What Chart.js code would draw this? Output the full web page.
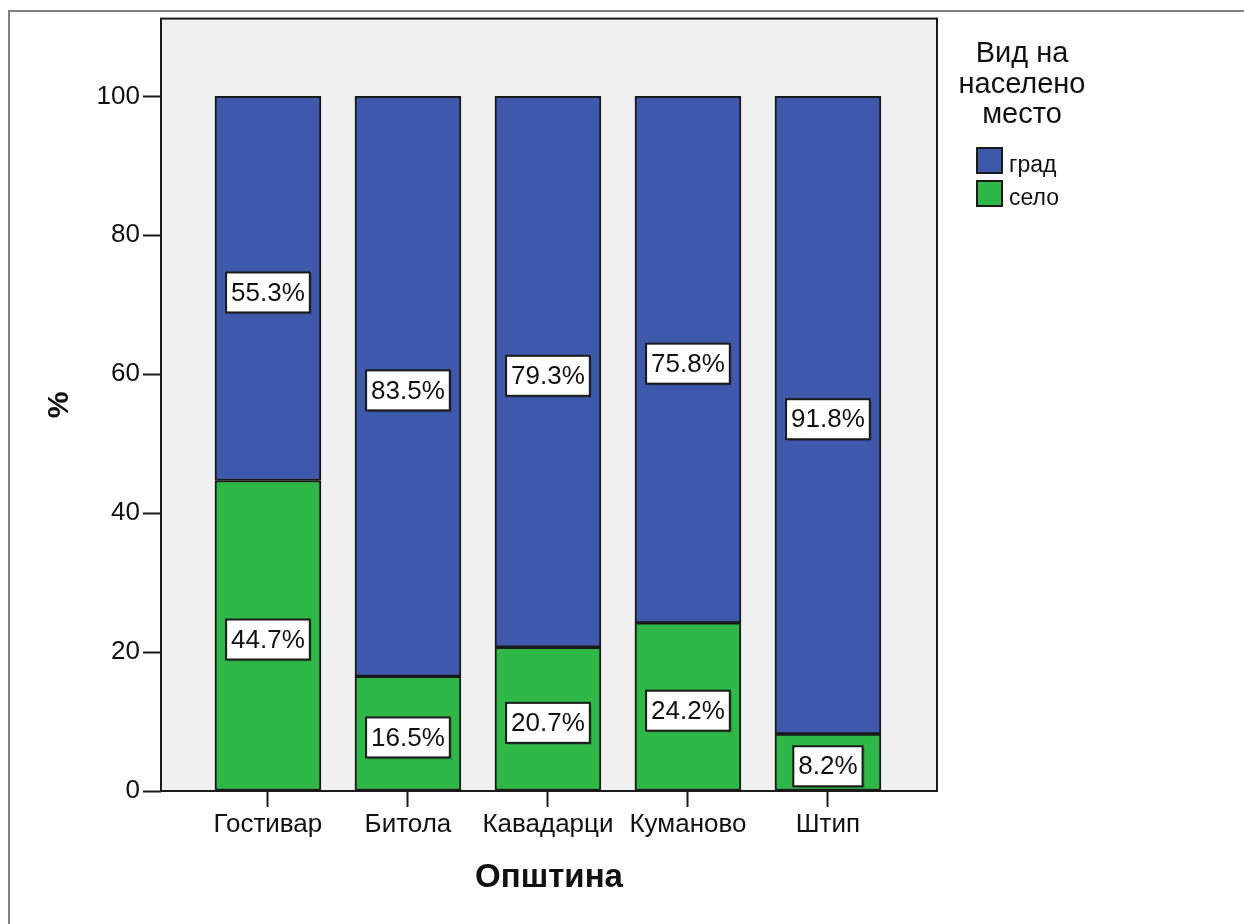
<!DOCTYPE html>
<html>
<head>
<meta charset="utf-8">
<script src="https://cdn.jsdelivr.net/npm/chart.js@4.4.1/dist/chart.umd.min.js"></script>
<style>
  html, body { margin: 0; padding: 0; background: #fff; }
  #wrap { width: 1244px; height: 924px; }
</style>
</head>
<body>
<div id="wrap"><canvas id="chart" width="1244" height="924"></canvas></div>
<script>
// Municipalities and share of respondents by settlement type (%)
const cities = ['Гостивар', 'Битола', 'Кавадарци', 'Куманово', 'Штип'];
const gradValues = [55.3, 83.5, 79.3, 75.8, 91.8];
const seloValues = [44.7, 16.5, 20.7, 24.2, 8.2];
const yTicks = [0, 20, 40, 60, 80, 100];

const legendTitle = ['Вид на', 'населено', 'место'];
const FONT = "'Liberation Sans', Arial, sans-serif";
const BLUE = '#3E58AC';
const GREEN = '#2EB848';

// plot background and frame, outer border
const framePlugin = {
    id: 'frame',
    beforeDraw(chart) {
        const ctx = chart.ctx;
        const a = chart.chartArea;
        ctx.save();
        ctx.strokeStyle = '#808080';
        ctx.lineWidth = 2;
        ctx.strokeRect(9, 11, 1400, 1100);
        ctx.fillStyle = '#F0F0F0';
        ctx.fillRect(a.left, a.top, a.right - a.left, a.bottom - a.top);
        ctx.restore();
    },
    afterDatasetsDraw(chart) {
        const ctx = chart.ctx;
        const a = chart.chartArea;
        ctx.save();
        ctx.strokeStyle = '#1a1a1a';
        ctx.lineWidth = 2;
        ctx.strokeRect(a.left, a.top, a.right - a.left, a.bottom - a.top);
        ctx.restore();
    }
};

// white value boxes in the middle of each segment
const valueBoxes = {
    id: 'valueBoxes',
    afterDatasetsDraw(chart) {
        const ctx = chart.ctx;
        ctx.save();
        ctx.font = '26px ' + FONT;
        ctx.textAlign = 'center';
        ctx.textBaseline = 'middle';
        chart.data.datasets.forEach((ds, di) => {
            const meta = chart.getDatasetMeta(di);
            meta.data.forEach((bar, i) => {
                const text = ds.data[i].y.toFixed(1) + '%';
                const w = ctx.measureText(text).width + 10;
                const h = 40;
                const cx = bar.x;
                const cy = (bar.y + bar.base) / 2 + 4;
                ctx.fillStyle = 'rgba(0,0,0,0.18)';
                ctx.fillRect(cx - w / 2 + 2, cy - h / 2 + 2, w, h);
                ctx.fillStyle = '#fff';
                ctx.fillRect(cx - w / 2, cy - h / 2, w, h);
                ctx.strokeStyle = '#1a1a1a';
                ctx.lineWidth = 2;
                ctx.strokeRect(cx - w / 2, cy - h / 2, w, h);
                ctx.fillStyle = '#111';
                ctx.fillText(text, cx, cy + 1);
            });
        });
        ctx.restore();
    }
};

// legend on the right, drawn like the original
const sideLegend = {
    id: 'sideLegend',
    afterDraw(chart) {
        const ctx = chart.ctx;
        ctx.save();
        ctx.fillStyle = '#111';
        ctx.font = '29px ' + FONT;
        ctx.textAlign = 'center';
        ctx.textBaseline = 'alphabetic';
        legendTitle.forEach((line, i) => {
            ctx.fillText(line, 1022, 62 + i * 30.5);
        });
        const items = [chart.data.datasets[1], chart.data.datasets[0]];
        ctx.font = '23px ' + FONT;
        ctx.textAlign = 'left';
        items.forEach((ds, i) => {
            const y = 148 + i * 33;
            ctx.fillStyle = ds.backgroundColor;
            ctx.fillRect(977, y, 25, 25);
            ctx.strokeStyle = '#1a1a1a';
            ctx.lineWidth = 2;
            ctx.strokeRect(977, y, 25, 25);
            ctx.fillStyle = '#111';
            ctx.fillText(ds.label, 1009, y + 24);
        });
        ctx.restore();
    }
};

const ctx = document.getElementById('chart').getContext('2d');
new Chart(ctx, {
    type: 'bar',
    data: {
        datasets: [{
            label: 'село',
            data: seloValues.map((v, i) => ({ x: i, y: v })),
            backgroundColor: GREEN,
            borderColor: '#1a1a1a',
            borderWidth: 2,
            borderSkipped: false,
            barThickness: 106
        }, {
            label: 'град',
            data: gradValues.map((v, i) => ({ x: i, y: v })),
            backgroundColor: BLUE,
            borderColor: '#1a1a1a',
            borderWidth: 2,
            borderSkipped: false,
            barThickness: 106
        }]
    },
    options: {
        responsive: false,
        animation: false,
        layout: {
            padding: { top: 17, right: 307, left: 0, bottom: 0 }
        },
        plugins: {
            legend: { display: false },
            tooltip: { enabled: false }
        },
        scales: {
            x: {
                type: 'linear',
                stacked: true,
                offset: false,
                min: -0.764,
                max: 4.779,
                afterBuildTicks: s => { s.ticks = cities.map((c, i) => ({ value: i })); },
                afterFit: s => { s.height = 133; },
                grid: {
                    drawOnChartArea: false,
                    offset: false,
                    tickLength: 16,
                    tickWidth: 2,
                    tickColor: '#1a1a1a'
                },
                border: { display: false },
                ticks: {
                    autoSkip: false,
                    maxRotation: 0,
                    padding: 2,
                    color: '#111',
                    font: { family: FONT, size: 26 },
                    callback: v => cities[v]
                },
                title: {
                    display: true,
                    text: 'Општина',
                    color: '#111',
                    font: { family: FONT, size: 33, weight: 'bold' },
                    padding: { top: 0, bottom: 26 }
                }
            },
            y: {
                stacked: true,
                min: 0,
                max: 111.2,
                afterBuildTicks: s => { s.ticks = yTicks.map(v => ({ value: v })); },
                afterFit: s => { s.width = 161; },
                grid: {
                    drawOnChartArea: false,
                    tickLength: 18,
                    tickWidth: 2,
                    tickColor: '#1a1a1a'
                },
                border: { display: false },
                ticks: {
                    padding: 3,
                    color: '#111',
                    font: { family: FONT, size: 26 }
                },
                title: {
                    display: true,
                    text: '%',
                    color: '#111',
                    font: { family: FONT, size: 30, weight: 'bold' },
                    padding: { top: 42, bottom: 0 }
                }
            }
        }
    },
    plugins: [framePlugin, valueBoxes, sideLegend]
});
</script>
</body>
</html>
